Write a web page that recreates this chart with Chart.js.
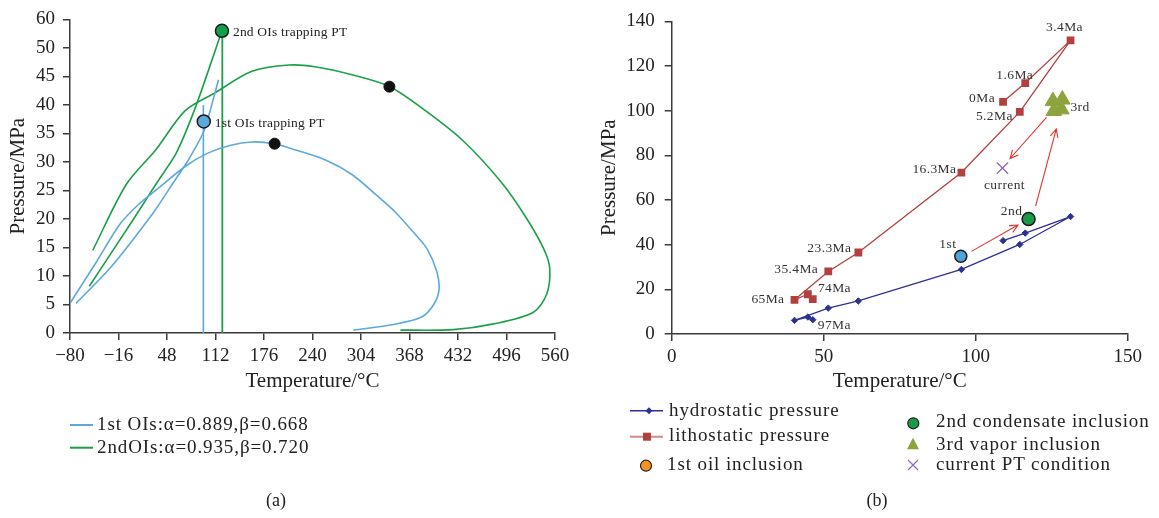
<!DOCTYPE html>
<html>
<head>
<meta charset="utf-8">
<script src="https://cdn.jsdelivr.net/npm/chart.js@4.4.1/dist/chart.umd.min.js"></script>
<style>
  body { margin: 0; background: #fff; width: 1159px; height: 518px; position: relative; overflow: hidden;
         font-family: "Liberation Serif", "Times New Roman", serif; color: #222; }
  canvas { position: absolute; top: 0; }
  #chart-a { left: 0; }
  #chart-b { left: 590px; }
  .lg { position: absolute; font-size: 19px; letter-spacing: 0.9px; white-space: nowrap; line-height: 1; }
  .cap { position: absolute; font-size: 18px; line-height: 1; transform: translate(-50%, -50%); }
  #marks { position: absolute; left: 0; top: 0; }
</style>
</head>
<body>
<canvas id="chart-a" width="580" height="400"></canvas>
<canvas id="chart-b" width="569" height="400"></canvas>

<svg id="marks" width="1159" height="518">
  <line x1="70" y1="425" x2="93" y2="425" stroke="#5DA9DD" stroke-width="2"/>
  <line x1="70" y1="447.7" x2="93" y2="447.7" stroke="#1BA049" stroke-width="2"/>
  <line x1="630" y1="410.7" x2="663" y2="410.7" stroke="#2E3192" stroke-width="1.5"/>
  <polygon points="649,407.2 652.5,410.7 649,414.2 645.5,410.7" fill="#2E3192"/>
  <line x1="630" y1="436.7" x2="663" y2="436.7" stroke="#D48A85" stroke-width="2"/>
  <rect x="643" y="432.7" width="8" height="8" fill="#B0413E"/>
  <circle cx="646" cy="465.7" r="5.5" fill="#F7931E" stroke="#222" stroke-width="1.2"/>
  <circle cx="913.3" cy="423.3" r="5.5" fill="#1A9A48" stroke="#222" stroke-width="1.2"/>
  <polygon points="913,437.8 919,449.3 907,449.3" fill="#8DA33D"/>
  <path d="M908 460 L918 470 M918 460 L908 470" stroke="#8E6BB5" stroke-width="1.2"/>
</svg>

<div class="lg" style="left:97px;top:414px">1st OIs:α=0.889,β=0.668</div>
<div class="lg" style="left:97px;top:437px">2ndOIs:α=0.935,β=0.720</div>
<div class="lg" style="left:669px;top:400px">hydrostatic pressure</div>
<div class="lg" style="left:669px;top:425px">lithostatic pressure</div>
<div class="lg" style="left:667px;top:454px">1st oil inclusion</div>
<div class="lg" style="left:936px;top:411px">2nd condensate inclusion</div>
<div class="lg" style="left:936px;top:434px">3rd vapor inclusion</div>
<div class="lg" style="left:936px;top:454px">current PT condition</div>
<div class="cap" style="left:276px;top:500px">(a)</div>
<div class="cap" style="left:877px;top:500px">(b)</div>

<script>
// ---- panel (a): phase envelopes and isochores ----
var tempTicksA = ['−80', '−16', '48', '112', '176', '240', '304', '368', '432', '496', '560'];
var presTicksA = ['0', '5', '10', '15', '20', '25', '30', '35', '40', '45', '50', '60'];

var envelope1T = [-80, -45, -14, 10, 33, 72, 101, 131, 160, 189, 218, 258, 292, 326, 350, 373, 391, 404, 407, 400, 384, 347, 294];
var envelope1P = [5.2, 12.5, 19.1, 22.5, 25.0, 29.2, 31.5, 32.9, 33.5, 33.2, 32.1, 30.3, 27.8, 24.0, 21.1, 17.7, 14.8, 10.8, 7.6, 5.0, 2.8, 1.5, 0.5];
var isochore1T = [-72, -27, 30, 56, 76, 97, 116];
var isochore1P = [5.2, 11.4, 21.1, 26.3, 30.3, 35.5, 44.4];

var envelope2T = [-50, -6, 33, 72, 111, 160, 209, 243, 292, 342, 389, 438, 490, 523, 545, 553, 549, 531, 479, 426, 356];
var envelope2P = [14.5, 26.0, 32.1, 39.0, 42.1, 45.9, 47.0, 46.7, 45.3, 43.2, 39.0, 33.8, 26.3, 20.0, 14.8, 11.4, 6.8, 3.6, 1.6, 0.6, 0.5];
var isochore2T = [-54.5, 3.9, 34.4, 60, 87, 120.5];
var isochore2P = [8.2, 20, 26.3, 31.5, 40.1, 53.0];

var trapLineT = [96, 121];
var trapLineTop = [40, 53];
var trapT = [96.5, 120.5];
var trapP = [37.1, 53.0];
var trapLabels = ['1st OIs trapping PT', '2nd OIs trapping PT'];
var criticalT = [190, 341.5];
var criticalP = [33.2, 43.2];

// ---- panel (b): burial history and inclusions ----
var ageLabels = ['97Ma', '74Ma', '65Ma', '35.4Ma', '23.3Ma', '16.3Ma', '5.2Ma', '3.4Ma', '1.6Ma', '0Ma'];
var burialT = [46.4, 44.8, 40.4, 51.5, 61.4, 95.3, 114.5, 131.2, 116.3, 109.0];
var hydroP = [6.4, 7.6, 6.1, 11.6, 14.8, 28.9, 40.1, 52.6, 45.2, 41.8];
var lithoP = [15.6, 17.8, 15.3, 28.0, 36.5, 72.3, 99.5, 131.5, 112.4, 104.0];

var firstT = [95.1], firstP = [34.8];
var secondT = [117.4], secondP = [51.5];
var thirdT = [125.4, 128.5, 125.7, 128.2];
var thirdP = [104.3, 105.0, 99.9, 100.6];
var currentT = [108.8], currentP = [74.3];
var inclusionLabels = ['1st', '2nd', '3rd', 'current'];

var arrowFromT = [98.6, 119.7, 123.3];
var arrowFromP = [37.0, 57.3, 97.0];
var arrowToT = [113.9, 126.5, 111.3];
var arrowToP = [48.8, 91.8, 78.6];

(function () {
  'use strict';

  var SERIF = '"Liberation Serif", "Times New Roman", serif';
  var AXIS = '#3a3a3a';
  var BLUE = '#5DA9DD';
  var GREEN = '#1BA049';
  var HYDRO_DS = 4;
  var LITHO_DS = 5;

  function pts(xs, ys) {
    return xs.map(function (x, i) {
      return { x: x, y: ys[i] };
    });
  }

  function vertical(t, top) {
    return [{ x: t, y: 0 }, { x: t, y: top }];
  }

  var pointLabels = {
    id: 'pointLabels',
    afterDatasetsDraw: function (chart, args, opts) {
      var ctx = chart.ctx;
      ctx.save();
      ctx.font = opts.size + 'px ' + SERIF;
      ctx.fillStyle = opts.color;
      ctx.textBaseline = 'middle';
      if ('letterSpacing' in ctx) {
        ctx.letterSpacing = opts.spacing + 'px';
      }
      opts.items.forEach(function (it) {
        var el = chart.getDatasetMeta(it.ds).data[it.idx];
        if (!el) {
          return;
        }
        ctx.textAlign = it.align || 'center';
        ctx.fillText(it.text, el.x + it.dx, el.y + it.dy);
      });
      ctx.restore();
    }
  };

  var arrows = {
    id: 'arrows',
    afterDatasetsDraw: function (chart, args, opts) {
      if (!opts.draw) {
        return;
      }
      var sx = chart.scales.x;
      var sy = chart.scales.y;
      var ctx = chart.ctx;
      ctx.save();
      ctx.strokeStyle = opts.color;
      ctx.lineWidth = opts.width;
      for (var i = 0; i < arrowFromT.length; i++) {
        var x1 = sx.getPixelForValue(arrowFromT[i]);
        var y1 = sy.getPixelForValue(arrowFromP[i]);
        var x2 = sx.getPixelForValue(arrowToT[i]);
        var y2 = sy.getPixelForValue(arrowToP[i]);
        var a = Math.atan2(y2 - y1, x2 - x1);
        var h = opts.head;
        ctx.beginPath();
        ctx.moveTo(x1, y1);
        ctx.lineTo(x2, y2);
        ctx.moveTo(x2 - h * Math.cos(a - 0.45), y2 - h * Math.sin(a - 0.45));
        ctx.lineTo(x2, y2);
        ctx.lineTo(x2 - h * Math.cos(a + 0.45), y2 - h * Math.sin(a + 0.45));
        ctx.stroke();
      }
      ctx.restore();
    }
  };

  function axis(o) {
    return {
      type: 'linear',
      min: o.min,
      max: o.max,
      border: { display: true, color: AXIS, width: 1.5 },
      grid: { drawOnChartArea: false, drawTicks: true, tickLength: 7, color: AXIS, lineWidth: 1.5 },
      ticks: {
        stepSize: o.step,
        padding: o.pad,
        autoSkip: false,
        maxRotation: 0,
        color: '#222',
        font: { family: SERIF, size: 19 },
        callback: o.cb
      },
      title: {
        display: true,
        text: o.title,
        color: '#222',
        font: { family: SERIF, size: 21 },
        padding: o.titlePad
      },
      afterFit: o.fit
    };
  }

  function line(data, color, width, tension) {
    return {
      data: data,
      showLine: true,
      borderColor: color,
      borderWidth: width,
      pointRadius: 0,
      pointHoverRadius: 0,
      tension: tension,
      fill: false
    };
  }

  function dots(data, style, radius, fill, stroke, bw) {
    return {
      data: data,
      showLine: false,
      pointStyle: style,
      pointRadius: radius,
      pointHoverRadius: radius,
      backgroundColor: fill,
      borderColor: stroke,
      borderWidth: bw
    };
  }

  function renderPanelA() {
    var ctx = document.getElementById('chart-a').getContext('2d');
    new Chart(ctx, {
      type: 'scatter',
      data: {
        datasets: [
          dots(pts(trapT, trapP), 'circle', 6.5, [BLUE, '#12A04A'], '#1a1a1a', 1.5),
          dots(pts(criticalT, criticalP), 'circle', 5.5, '#111', '#111', 1),
          line(pts(envelope1T, envelope1P), BLUE, 1.6, 0.3),
          line(pts(isochore1T, isochore1P), BLUE, 1.6, 0.2),
          line(vertical(trapLineT[0], trapLineTop[0]), BLUE, 1.6, 0),
          line(pts(envelope2T, envelope2P), GREEN, 1.6, 0.3),
          line(pts(isochore2T, isochore2P), GREEN, 1.6, 0.2),
          line(vertical(trapLineT[1], trapLineTop[1]), GREEN, 1.8, 0)
        ]
      },
      options: {
        responsive: false,
        animation: false,
        events: [],
        layout: { padding: { left: 0, top: 13, right: 25, bottom: 0 } },
        scales: {
          x: axis({
            min: -80, max: 560, step: 64, pad: 5,
            cb: function (v, i) { return tempTicksA[i]; },
            title: 'Temperature/°C', titlePad: { top: 2, bottom: 6 },
            fit: function (s) { s.height = 67; }
          }),
          y: axis({
            min: 0, max: 55, step: 5, pad: 8,
            cb: function (v, i) { return presTicksA[i]; },
            title: 'Pressure/MPa', titlePad: { top: 6, bottom: 2 },
            fit: function (s) { s.width = 70; }
          })
        },
        plugins: {
          legend: { display: false },
          tooltip: { enabled: false },
          arrows: { draw: false },
          pointLabels: {
            size: 13.5, color: '#222', spacing: 0.2,
            items: [
              { ds: 0, idx: 0, text: trapLabels[0], dx: 11, dy: 2, align: 'left' },
              { ds: 0, idx: 1, text: trapLabels[1], dx: 11, dy: 2, align: 'left' }
            ]
          }
        }
      },
      plugins: [pointLabels, arrows]
    });
  }

  function renderPanelB() {
    var ctx = document.getElementById('chart-b').getContext('2d');
    var RED = '#B0413E';
    var NAVY = '#2E3192';
    // label placement per age: [series, dx, dy, align]
    var spots = [
      [HYDRO_DS, 5, 6, 'left'], [LITHO_DS, 10, -6, 'left'], [LITHO_DS, -10, 0, 'right'],
      [LITHO_DS, -10, -2, 'right'], [LITHO_DS, -7, -4.5, 'right'], [LITHO_DS, -5, -3.5, 'right'],
      [LITHO_DS, -7, 5, 'right'], [LITHO_DS, -6, -12.5, 'center'], [LITHO_DS, -10.5, -7.5, 'center'],
      [LITHO_DS, -8, -3, 'right']
    ];
    var ageItems = ageLabels.map(function (t, i) {
      var s = spots[i];
      return { ds: s[0], idx: i, text: t, dx: s[1], dy: s[2], align: s[3] };
    });
    new Chart(ctx, {
      type: 'scatter',
      data: {
        datasets: [
          dots(pts(firstT, firstP), 'circle', 6, '#4FA3D8', '#1a1a1a', 1.5),
          dots(pts(secondT, secondP), 'circle', 6.5, '#1A9A48', '#1a1a1a', 1.5),
          dots(pts(thirdT, thirdP), 'triangle', 9, '#8DA33D', '#8DA33D', 1),
          dots(pts(currentT, currentP), 'crossRot', 8, '#8E6BB5', '#8E6BB5', 1.3),
          {
            data: pts(burialT, hydroP), showLine: true, borderColor: NAVY, borderWidth: 1.3,
            pointStyle: 'rectRot', pointRadius: 3.2, backgroundColor: NAVY, pointBorderColor: NAVY,
            pointBorderWidth: 1, tension: 0
          },
          {
            data: pts(burialT, lithoP), showLine: true, borderColor: RED, borderWidth: 1.3,
            pointStyle: 'rect', pointRadius: 5.5, backgroundColor: RED, pointBorderColor: RED,
            pointBorderWidth: 0, tension: 0
          }
        ]
      },
      options: {
        responsive: false,
        animation: false,
        events: [],
        layout: { padding: { left: 0, top: 15.4, right: 31.3, bottom: 0 } },
        scales: {
          x: axis({
            min: 0, max: 150, step: 50, pad: 5,
            title: 'Temperature/°C', titlePad: { top: 2, bottom: 6 },
            fit: function (s) { s.height = 66; }
          }),
          y: axis({
            min: 0, max: 140, step: 20, pad: 10,
            title: 'Pressure/MPa', titlePad: { top: 6.5, bottom: 2 },
            fit: function (s) { s.width = 81.7; }
          })
        },
        plugins: {
          legend: { display: false },
          tooltip: { enabled: false },
          arrows: { draw: true, color: '#E8322C', width: 1.1, head: 9 },
          pointLabels: {
            size: 13.5, color: '#333', spacing: 0.4,
            items: ageItems.concat([
              { ds: 0, idx: 0, text: inclusionLabels[0], dx: -13, dy: -11.5, align: 'center' },
              { ds: 1, idx: 0, text: inclusionLabels[1], dx: -17, dy: -8, align: 'center' },
              { ds: 2, idx: 3, text: inclusionLabels[2], dx: 9, dy: -2, align: 'left' },
              { ds: 3, idx: 0, text: inclusionLabels[3], dx: 2, dy: 17.5, align: 'center' }
            ])
          }
        }
      },
      plugins: [pointLabels, arrows]
    });
  }

  renderPanelA();
  renderPanelB();
})();
</script>
</body>
</html>
